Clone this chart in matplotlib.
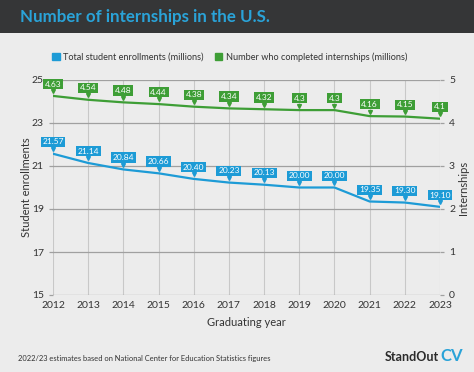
import matplotlib.pyplot as plt
import matplotlib.patches as mp
from matplotlib.transforms import offset_copy

years = [2012, 2013, 2014, 2015, 2016, 2017, 2018, 2019, 2020, 2021, 2022, 2023]
enrollments = [21.57, 21.14, 20.84, 20.66, 20.40, 20.23, 20.13, 20.00, 20.00, 19.35, 19.30, 19.10]
internships = [4.63, 4.54, 4.48, 4.44, 4.38, 4.34, 4.32, 4.3, 4.3, 4.16, 4.15, 4.1]
enroll_labels = ['21.57', '21.14', '20.84', '20.66', '20.40', '20.23', '20.13', '20.00', '20.00', '19.35', '19.30', '19.10']
intern_labels = ['4.63', '4.54', '4.48', '4.44', '4.38', '4.34', '4.32', '4.3', '4.3', '4.16', '4.15', '4.1']

blue = '#1d9bd6'
green = '#3e9e36'
txt = '#333333'
plt.rcParams['font.family'] = ['Lato', 'DejaVu Sans']

fig = plt.figure(figsize=(4.74, 3.72), dpi=100, facecolor='#ececec')
fig.patches.append(mp.Rectangle((0, 1 - 33 / 372), 1, 33 / 372, transform=fig.transFigure,
                                facecolor='#353637', edgecolor='none', zorder=0))
fig.text(20 / 474, 1 - 17 / 372, 'Number of internships in the U.S.', color='#2aa3d8',
         fontsize=12.2, fontweight='bold', va='center', ha='left')

ax = fig.add_axes([53 / 474, 1 - 295 / 372, 387 / 474, 215 / 372])
ax.set_facecolor('#ececec')
ax2 = ax.twinx()

ax.plot(years, enrollments, color=blue, lw=1.6, zorder=3)
ax2.plot(years, internships, color=green, lw=1.6, zorder=3)

ax.set_xlim(2012, 2023)
ax.set_ylim(15, 25)
ax2.set_ylim(0, 5)
ax.set_xticks(years)
ax.set_yticks([15, 17, 19, 21, 23, 25])
ax2.set_yticks([0, 1, 2, 3, 4, 5])

ax.grid(axis='x', color='#c8c8c8', lw=0.8)
ax.grid(axis='y', color='#a0a0a0', lw=0.9)
for a in (ax, ax2):
    for s in a.spines.values():
        s.set_visible(False)
    a.tick_params(colors='#a0a0a0', labelcolor=txt, labelsize=7.5, length=3, width=0.9)
ax.tick_params(axis='x', length=0, pad=4)

ax.set_xlabel('Graduating year', color=txt, fontsize=8, labelpad=5)
ax.set_ylabel('Student enrollments', color=txt, fontsize=8, labelpad=0)
ax2.set_ylabel('Internships', color=txt, fontsize=8, labelpad=2)

# value labels with small pointer below
def labels(a, xs, ys, texts, color):
    tri = offset_copy(a.transData, fig=fig, x=0, y=3.3, units='points')
    a.plot(xs, ys, 'v', ms=2.8, color=color, transform=tri, zorder=4, clip_on=False)
    for x, y, t in zip(xs, ys, texts):
        a.annotate(t, (x, y), xytext=(0, 8.5), textcoords='offset points',
                   ha='center', va='center', fontsize=6, color='white', zorder=5,
                   bbox=dict(boxstyle='square,pad=0.2', fc=color, ec='none'),
                   annotation_clip=False)

labels(ax, years, enrollments, enroll_labels, blue)
labels(ax2, years, internships, intern_labels, green)

handles = [mp.Patch(color=blue, label='Total student enrollments (millions)'),
           mp.Patch(color=green, label='Number who completed internships (millions)')]
fig.legend(handles=handles, loc='center', bbox_to_anchor=(0.485, 1 - 57 / 372), ncol=2,
           frameon=False, fontsize=6.6, handlelength=0.8, handleheight=0.8,
           handletextpad=0.4, columnspacing=1.2, labelcolor=txt)

fig.text(18 / 474, 1 - 358 / 372, '2022/23 estimates based on National Center for Education Statistics figures',
         fontsize=5.4, color=txt, va='center')
fig.text(439 / 474, 1 - 357 / 372, 'StandOut', fontsize=9, fontweight='bold', color='#2b2b2b',
         ha='right', va='center')
fig.text(440 / 474, 1 - 356 / 372, 'CV', fontsize=12, fontweight='bold', color='#2aa3d8',
         ha='left', va='center')

fig.savefig('out.png', dpi=100, facecolor=fig.get_facecolor())
